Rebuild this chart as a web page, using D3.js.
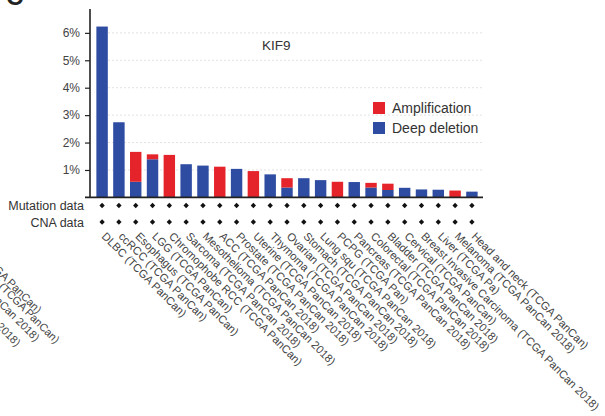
<!DOCTYPE html>
<html lang="en">
<head>
    <meta charset="UTF-8">
    <title>KIF9 alteration frequency</title>
    <script src="https://d3js.org/d3.v7.min.js"></script>
    <style>
        body { margin: 0; background: #fff; }
        svg { font-family: Arial, "Liberation Sans", sans-serif; }
        .grid line { stroke: #e2e2e2; stroke-dasharray: 2,2; }
        .lbl { fill: #444; }
    </style>
</head>
<body>
<div id="chart"></div>
<script>
    // cancer studies, in plotted order
    const categories = [
        "DLBC (TCGA PanCan)", "ccRCC (TCGA PanCan)", "Esophagus (TCGA PanCan)",
        "LGG (TCGA PanCan)", "Chromophobe RCC (TCGA PanCan)", "Sarcoma (TCGA PanCan 2018)",
        "Mesothelioma (TCGA PanCan 2018)", "ACC (TCGA PanCan 2018)", "Prostate (TCGA PanCan 2018)",
        "Uterine (TCGA PanCan 2018)", "Thymoma (TCGA PanCan 2018)", "Ovarian (TCGA PanCan 2018)",
        "Stomach (TCGA PanCan 2018)", "Lung squ (TCGA PanCan 2018)", "PCPG (TCGA Pan)",
        "Pancreas (TCGA PanCan 2018)", "Colorectal (TCGA PanCan 2018)", "Bladder (TCGA PanCan 2018)",
        "Cervical (TCGA PanCan)", "Breast Invasive Carcinoma (TCGA PanCan 2018)", "Liver (TCGA Pa)",
        "Melanoma (TCGA PanCan 2018)", "Head and neck (TCGA PanCan)"
    ];
    // alteration frequency, %
    const deepDeletion = [6.23, 2.74, 0.57, 1.39, 0, 1.21, 1.16, 0, 1.04, 0, 0.84, 0.36,
                          0.70, 0.63, 0, 0.56, 0.36, 0.27, 0.35, 0.29, 0.28, 0, 0.21];
    const amplification = [0, 0, 1.09, 0.18, 1.55, 0, 0, 1.12, 0, 0.96, 0, 0.34,
                           0, 0, 0.57, 0, 0.17, 0.23, 0, 0, 0, 0.25, 0];
    const yTicks = [1, 2, 3, 4, 5, 6];
    const rowLabels = ["Mutation data", "CNA data"];
    // fragments of the neighbouring panel's labels
    const leftFragments = ["ER+ (TCGA PanCan)", "Kidney (TCGA PanCan)", "(TCGA PanCan 2018)", "(TCGA PanCan 2018)"];

    const red = "#e5232a", blue = "#2e4ca2";
    const width = 605, height = 416;

    const svg = d3.select("#chart").append("svg")
        .attr("width", width).attr("height", height);

    const x = d3.scaleBand().domain(categories).range([91, 483]).padding(0.32);
    const y = d3.scaleLinear().domain([0, 6.87]).range([197.4, 9]);

    // cut panel letter
    svg.append("text").attr("x", 6).attr("y", 5)
        .attr("font-size", 24).attr("font-weight", "bold").attr("fill", "#222").text("C");

    // grid
    svg.append("g").attr("class", "grid")
        .selectAll("line").data(yTicks).enter().append("line")
        .attr("x1", 100).attr("x2", 482)
        .attr("y1", d => y(d)).attr("y2", d => y(d));

    // stacked bars: deep deletion below, amplification on top
    const bars = svg.append("g");
    bars.selectAll("rect.del").data(categories).enter().append("rect")
        .attr("class", "del")
        .attr("x", d => x(d)).attr("width", x.bandwidth())
        .attr("y", (d, i) => y(deepDeletion[i]))
        .attr("height", (d, i) => y(0) - y(deepDeletion[i]))
        .attr("fill", blue);
    bars.selectAll("rect.amp").data(categories).enter().append("rect")
        .attr("class", "amp")
        .attr("x", d => x(d)).attr("width", x.bandwidth())
        .attr("y", (d, i) => y(deepDeletion[i] + amplification[i]))
        .attr("height", (d, i) => y(deepDeletion[i]) - y(deepDeletion[i] + amplification[i]))
        .attr("fill", red);

    // y axis
    const yAxis = svg.append("g").attr("transform", "translate(90,0)")
        .call(d3.axisLeft(y).tickValues(yTicks).tickFormat(d => d + "%").tickSize(5));
    yAxis.select(".domain").remove();
    yAxis.selectAll(".tick line").attr("stroke", "#222").attr("stroke-width", 1.2);
    yAxis.selectAll(".tick text").attr("font-size", 12).attr("fill", "#444")
        .attr("font-family", "Arial, 'Liberation Sans', sans-serif").attr("x", -10);
    svg.append("line").attr("x1", 90).attr("x2", 90).attr("y1", y.range()[1]).attr("y2", y(0))
        .attr("stroke", "#222").attr("stroke-width", 1.6);
    svg.append("line").attr("x1", 85).attr("x2", 483).attr("y1", y(0)).attr("y2", y(0))
        .attr("stroke", "#222").attr("stroke-width", 1.6);

    // title
    svg.append("text").attr("x", 262).attr("y", 50).attr("font-size", 13.5)
        .attr("fill", "#333").text("KIF9");

    // legend
    const legend = svg.append("g").attr("transform", "translate(373,102)");
    [["Amplification", red], ["Deep deletion", blue]].forEach(([name, c], i) => {
        legend.append("rect").attr("x", 0).attr("y", i * 20).attr("width", 12).attr("height", 12).attr("fill", c);
        legend.append("text").attr("x", 19).attr("y", i * 20 + 10.5).attr("font-size", 14)
            .attr("fill", "#333").text(name);
    });

    // profiled rows
    const rowY = [205.5, 222];
    rowLabels.forEach((r, j) => {
        svg.append("text").attr("x", 84).attr("y", rowY[j] + 4.5).attr("text-anchor", "end")
            .attr("font-size", 12.5).attr("fill", "#333").text(r);
        svg.append("g").selectAll("path").data(categories).enter().append("path")
            .attr("transform", d => `translate(${x(d) + x.bandwidth() / 2},${rowY[j]})`)
            .attr("d", d3.symbol(d3.symbolDiamond2, 18))
            .attr("fill", "#111");
    });

    // category labels
    svg.append("g").selectAll("text").data(categories).enter().append("text")
        .attr("class", "lbl")
        .attr("transform", d => `translate(${x(d) + x.bandwidth() / 2 - 1},237) rotate(45)`)
        .attr("font-size", 11.2).text(d => d);

    // labels of the panel on the left, mostly off canvas
    const fragEnds = [[37, 314], [55, 344], [35, 342], [16, 347]];
    svg.append("g").selectAll("text").data(leftFragments).enter().append("text")
        .attr("class", "lbl").attr("text-anchor", "end")
        .attr("transform", (d, i) => `translate(${fragEnds[i][0]},${fragEnds[i][1]}) rotate(45)`)
        .attr("font-size", 11).text(d => d);
</script>
</body>
</html>
